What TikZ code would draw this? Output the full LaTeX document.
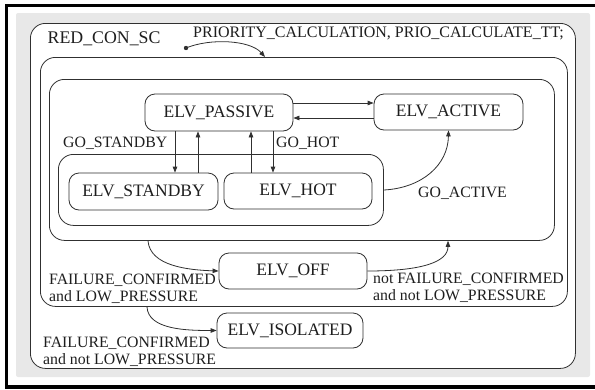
\documentclass[tikz,border=0pt]{standalone}
\usepackage{fontspec}
\setmainfont{Liberation Serif}
\usetikzlibrary{arrows.meta,calc}
\definecolor{bggray}{HTML}{E8E8E8}
\definecolor{ln}{HTML}{303030}
\definecolor{tx}{HTML}{1E1E1E}
\begin{document}
\begin{tikzpicture}[x=1pt,y=-1pt,
  container/.style={draw=ln,line width=0.8pt,rounded corners=15pt,inner sep=0pt,anchor=north west},
  state/.style={draw=ln,line width=0.8pt,rounded corners=10pt,inner sep=0pt,text=tx,
     font=\fontsize{17.5}{18}\selectfont},
  lbl/.style={inner sep=0pt,text=tx,anchor=base west,align=left,
     font=\fontsize{15.8}{16.5}\selectfont},
  arr/.style={draw=ln,line width=0.8pt,-{Triangle[length=6pt,width=4.5pt]}}]
\useasboundingbox (0,0) rectangle (595,389);
% frame and background
\fill[black] (5,4) rectangle (600,7);
\fill[black] (5,4) rectangle (7.5,389);
\fill[black] (5,385) rectangle (600,389);
\fill[bggray,rounded corners=2pt] (16,13) rectangle (590,377);
% containers
\node[container,fill=white,minimum width=545pt,minimum height=345pt] (outer) at (30,23) {};
\node[container,minimum width=527pt,minimum height=249pt] (box2) at (40,57) {};
\node[container,minimum width=505pt,minimum height=161pt] (box3) at (49,79) {};
\node[container,minimum width=325pt,minimum height=71pt] (box4) at (58,154) {};
\node[lbl,font=\fontsize{17.8}{18}\selectfont] (title) at (47.5,43) {RED\_CON\_SC};
% states
\node[state,minimum width=148pt,minimum height=37pt] (PASSIVE) at (219,112.5) {ELV\_PASSIVE};
\node[state,minimum width=149pt,minimum height=36pt] (ACTIVE) at (448.5,112) {ELV\_ACTIVE};
\node[state,minimum width=149pt,minimum height=37pt] (STANDBY) at (143.5,191.5) {ELV\_STANDBY};
\node[state,minimum width=148pt,minimum height=36pt] (HOT) at (298,191) {ELV\_HOT};
\node[state,minimum width=148pt,minimum height=36pt] (OFF) at (293,271) {ELV\_OFF};
\node[state,minimum width=146pt,minimum height=35pt] (ISOLATED) at (290,330.5) {ELV\_ISOLATED};
% helper coordinates
\coordinate (y103) at (0,103);
\coordinate (y118) at (0,118);
\coordinate (y190) at (0,190);
\coordinate (x175) at (175,0);
\coordinate (x198) at (198,0);
\coordinate (x251) at (251,0);
\coordinate (x273) at (273,0);
\coordinate (x148) at (148,0);
\coordinate (x448) at (448,0);
\coordinate (x147) at (147,0);
\coordinate (x265) at (265,0);
\coordinate (init) at (186,48);
% initial transition
\fill[ln] (init) circle (2.2pt);
\draw[arr] (init) .. controls (210,38) and (250,40) .. (box2.north -| x265);
\node[lbl,font=\fontsize{16}{16}\selectfont] (prio) at (193,37.5) {PRIORITY\_CALCULATION, PRIO\_CALCULATE\_TT;};
% transitions
\draw[arr] (PASSIVE.east |- y103) -- (ACTIVE.west |- y103);
\draw[arr] (ACTIVE.west |- y118) -- (PASSIVE.east |- y118);
\draw[arr] (PASSIVE.south -| x175) -- (STANDBY.north -| x175);
\draw[arr] (STANDBY.north -| x198) -- (PASSIVE.south -| x198);
\draw[arr] (HOT.north -| x251) -- (PASSIVE.south -| x251);
\draw[arr] (PASSIVE.south -| x273) -- (HOT.north -| x273);
\node[lbl] (gostandby) at (63,147) {GO\_STANDBY};
\node[lbl] (gohot) at (276,147) {GO\_HOT};
\draw[arr] (box4.east |- y190) .. controls (422,188) and (448,165) .. (ACTIVE.south);
\node[lbl] (goactive) at (418,197) {GO\_ACTIVE};
\draw[arr] (box3.south -| x148) .. controls (150,266) and (188,270) .. (OFF.west);
\node[lbl] (fc1) at (49,301) {FAILURE\_CONFIRMED\\and LOW\_PRESSURE};
\draw[arr] (OFF.east) .. controls (422,271) and (448,262) .. (box3.south -| x448);
\node[lbl] (fc2) at (373,300) {not FAILURE\_CONFIRMED\\and not LOW\_PRESSURE};
\draw[arr] (box2.south -| x147) .. controls (148,330) and (188,330.5) .. (ISOLATED.west);
\node[lbl] (fc3) at (43,364) {FAILURE\_CONFIRMED\\and not LOW\_PRESSURE};
\end{tikzpicture}
\end{document}
